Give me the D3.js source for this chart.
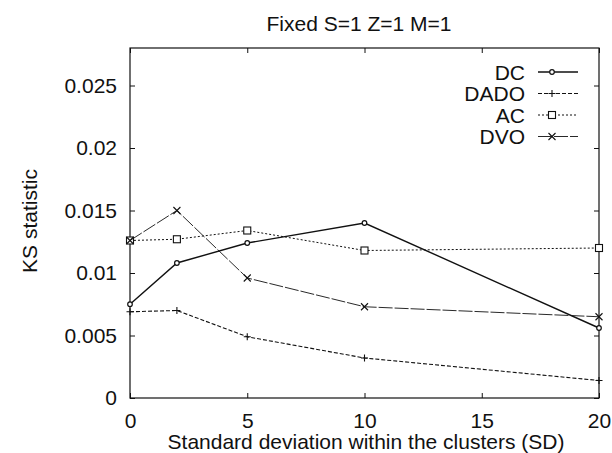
<!DOCTYPE html>
<html><head><meta charset="utf-8">
<script src="https://cdn.jsdelivr.net/npm/d3@7"></script>
<style>body{margin:0;background:#fff}svg{display:block}text{font-family:"Liberation Sans",Arial,sans-serif;fill:#111}</style>
</head><body><svg id="c" width="612" height="453"></svg>
<script>
const xValues = [0, 2, 5, 10, 20];
const seriesNames = ["DC", "DADO", "AC", "DVO"];
const dcValues   = [0.0075, 0.0108, 0.0124, 0.0140, 0.0056];
const dadoValues = [0.0069, 0.0070, 0.0049, 0.0032, 0.0014];
const acValues   = [0.0126, 0.0127, 0.0134, 0.0118, 0.0120];
const dvoValues  = [0.0126, 0.0150, 0.0096, 0.0073, 0.0065];
const xTicks = [0, 5, 10, 15, 20];
const yTicks = [0, 0.005, 0.01, 0.015, 0.02, 0.025];
const yTickLabels = ["0", "0.005", "0.01", "0.015", "0.02", "0.025"];

const svg = d3.select("#c");
const L = 130, R = 599, T = 48, B = 398;
const x = d3.scaleLinear().domain([0, 20]).range([L, R]);
const y = d3.scaleLinear().domain([0, 0.028]).range([B, T]);

const styles = {
  DC:   {dash: null,  w: 1.4, marker: "circle"},
  DADO: {dash: "4,2", w: 1.1, marker: "plus"},
  AC:   {dash: "2,2", w: 1.0, marker: "square"},
  DVO:  {dash: "14,2", w: 0.9, marker: "cross"}
};
const data = {DC: dcValues, DADO: dadoValues, AC: acValues, DVO: dvoValues};

// frame
svg.append("rect").attr("x", L).attr("y", T).attr("width", R - L).attr("height", B - T)
  .attr("fill", "none").attr("stroke", "#111").attr("stroke-width", 1.2);

// axes with inward ticks
const fs = 21;
const gB = svg.append("g").attr("transform", `translate(0,${B})`)
  .call(d3.axisBottom(x).tickValues(xTicks).tickSize(-5).tickPadding(15).tickFormat(d3.format("d")));
const gT = svg.append("g").attr("transform", `translate(0,${T})`)
  .call(d3.axisTop(x).tickValues(xTicks).tickSize(-5).tickFormat(""));
const gL = svg.append("g").attr("transform", `translate(${L},0)`)
  .call(d3.axisLeft(y).tickValues(yTicks).tickSize(-5).tickPadding(13).tickFormat((d, i) => yTickLabels[i]));
const gR = svg.append("g").attr("transform", `translate(${R},0)`)
  .call(d3.axisRight(y).tickValues(yTicks).tickSize(-5).tickFormat(""));
[gB, gT, gL, gR].forEach(g => {
  g.select(".domain").remove();
  g.selectAll("line").attr("stroke", "#111");
  g.selectAll("text").attr("font-size", fs).attr("font-family", "Liberation Sans, Arial, sans-serif").attr("fill", "#111");
});
gB.selectAll("text").attr("dy", "0.71em");

// title & labels
svg.append("text").attr("x", 359).attr("y", 31).attr("text-anchor", "middle").attr("font-size", fs).text("Fixed S=1 Z=1 M=1");
svg.append("text").attr("x", 366).attr("y", 449).attr("text-anchor", "middle").attr("font-size", 21).text("Standard deviation within the clusters (SD)");
svg.append("text").attr("transform", "translate(37,221) rotate(-90)").attr("text-anchor", "middle").attr("font-size", fs).text("KS statistic");

function drawMarker(g, type, cx, cy) {
  const s = 3.5;
  if (type === "circle") {
    g.append("circle").attr("cx", cx).attr("cy", cy).attr("r", 2.3).attr("fill", "#fff").attr("stroke", "#111").attr("stroke-width", 1.2);
  } else if (type === "square") {
    g.append("rect").attr("x", cx - s).attr("y", cy - s).attr("width", 2 * s).attr("height", 2 * s).attr("fill", "#fff").attr("stroke", "#111").attr("stroke-width", 1.1);
  } else if (type === "plus") {
    g.append("path").attr("d", `M${cx - s},${cy}H${cx + s}M${cx},${cy - s}V${cy + s}`).attr("stroke", "#111").attr("stroke-width", 1.1);
  } else if (type === "cross") {
    g.append("path").attr("d", `M${cx - s},${cy - s}L${cx + s},${cy + s}M${cx - s},${cy + s}L${cx + s},${cy - s}`).attr("stroke", "#111").attr("stroke-width", 1.1);
  }
}

const line = d3.line().x((d, i) => x(xValues[i])).y(d => y(d));
seriesNames.forEach(name => {
  const st = styles[name];
  const g = svg.append("g");
  g.append("path").datum(data[name]).attr("d", line).attr("fill", "none")
    .attr("stroke", "#111").attr("stroke-width", st.w).attr("stroke-dasharray", st.dash);
  data[name].forEach((v, i) => drawMarker(g, st.marker, x(xValues[i]), y(v)));
});

// legend
seriesNames.forEach((name, i) => {
  const st = styles[name];
  const ly = 72 + i * 21.5;
  svg.append("text").attr("x", 525).attr("y", ly).attr("dy", "0.36em").attr("text-anchor", "end").attr("font-size", fs).text(name);
  svg.append("line").attr("x1", 538).attr("x2", 578).attr("y1", ly).attr("y2", ly)
    .attr("stroke", "#111").attr("stroke-width", st.w).attr("stroke-dasharray", st.dash);
  drawMarker(svg, st.marker, 552, ly);
});
</script></body></html>
